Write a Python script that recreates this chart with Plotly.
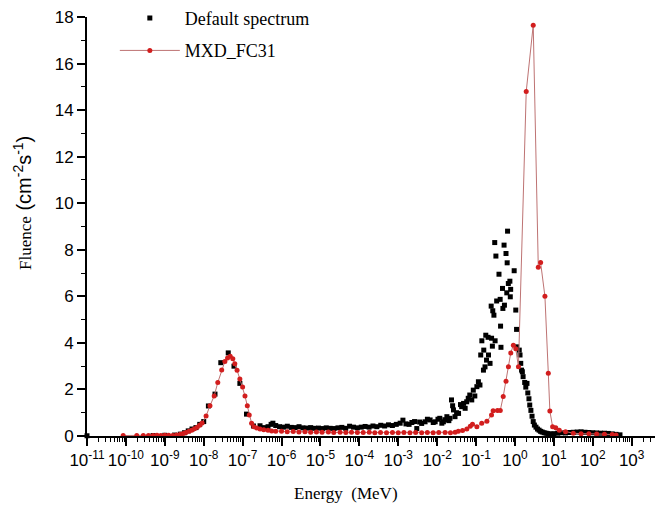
import plotly.graph_objects as go

# ---------------- data ----------------
default_energy = [
    1.0e-11, 5.0e-10, 1.0e-9, 1.78e-9, 2.5e-9, 3.2e-9, 4.0e-9, 5.0e-9, 6.3e-9, 7.9e-9,
    1.0e-8, 1.32e-8, 1.95e-8, 2.75e-8, 4.27e-8, 6.0e-8, 8.5e-8, 1.26e-7, 1.9e-7, 2.8e-7,
    3.55e-7, 4.5e-7, 5.4e-7, 6.0e-7, 7.1e-7, 8.9e-7, 1.12e-6, 1.41e-6, 1.78e-6, 2.24e-6,
    2.82e-6, 3.55e-6, 4.47e-6, 5.62e-6, 7.08e-6, 8.91e-6, 1.12e-5, 1.41e-5, 1.78e-5, 2.24e-5,
    2.82e-5, 3.55e-5, 4.47e-5, 5.62e-5, 7.08e-5, 8.91e-5, 1.12e-4, 1.41e-4, 1.78e-4, 2.24e-4,
    2.82e-4, 3.55e-4, 4.47e-4, 5.62e-4, 7.08e-4, 8.91e-4, 1.12e-3, 1.32e-3, 1.58e-3, 1.9e-3,
    2.24e-3, 2.63e-3, 3.0e-3, 3.55e-3, 4.0e-3, 4.9e-3, 5.62e-3, 6.6e-3, 7.94e-3, 8.9e-3,
    1.05e-2, 1.17e-2, 1.32e-2, 1.45e-2, 1.58e-2, 1.78e-2, 2.0e-2, 2.14e-2, 2.34e-2, 2.5e-2,
    2.63e-2, 2.88e-2, 3.16e-2, 3.55e-2, 3.98e-2, 4.27e-2, 4.79e-2, 5.25e-2, 5.75e-2, 6.3e-2,
    6.9e-2, 7.76e-2, 8.5e-2, 9.3e-2, 0.105, 0.115, 0.126, 0.132, 0.141, 0.155,
    0.158, 0.17, 0.178, 0.186, 0.204, 0.209, 0.229, 0.251, 0.263, 0.245,
    0.269, 0.288, 0.309, 0.302, 0.324, 0.339, 0.389, 0.417, 0.427, 0.437,
    0.479, 0.49, 0.525, 0.537, 0.589, 0.617, 0.631, 0.646, 0.676, 0.741,
    0.759, 0.776, 0.955, 1.05, 1.1, 1.11, 1.29, 1.35, 1.41, 1.48,
    1.55, 1.62, 1.78, 1.9, 2.04, 2.14, 2.29, 2.4, 2.57, 2.75,
    2.95, 3.16, 3.47, 3.8, 4.17, 4.57, 5.01, 5.62, 6.31, 7.08,
    7.94, 10.0, 12.6, 15.8, 20.0, 25.1, 31.6, 39.8, 50.1, 63.1,
    79.4, 100.0, 126.0, 158.0, 200.0, 251.0, 316.0, 398.0, 501.0,
]
default_fluence = [
    0.01, 0.02, 0.03, 0.04, 0.08, 0.14, 0.22, 0.30, 0.36, 0.50,
    0.62, 1.29, 1.80, 3.15, 3.57, 3.00, 2.26, 0.94, 0.43, 0.44,
    0.36, 0.40, 0.50, 0.55, 0.45, 0.40, 0.38, 0.42, 0.37, 0.36,
    0.40, 0.35, 0.34, 0.36, 0.33, 0.34, 0.32, 0.35, 0.33, 0.32,
    0.35, 0.37, 0.33, 0.42, 0.38, 0.35, 0.38, 0.41, 0.38, 0.43,
    0.40, 0.46, 0.43, 0.48, 0.45, 0.50, 0.55, 0.68, 0.52, 0.50,
    0.58, 0.62, 0.32, 0.60, 0.54, 0.61, 0.72, 0.69, 0.58, 0.61,
    0.72, 0.76, 0.55, 0.61, 0.70, 0.83, 0.66, 0.76, 1.55, 1.30,
    1.12, 0.83, 1.00, 0.97, 1.35, 1.26, 1.40, 1.19, 1.47, 1.62,
    1.76, 1.55, 1.97, 1.72, 2.12, 2.33, 2.19, 3.48, 4.09, 2.83,
    3.69, 2.97, 4.33, 3.26, 4.24, 3.48, 3.12, 4.20, 3.86, 5.58,
    5.38, 5.19, 4.09, 8.31, 7.73, 5.80, 6.95, 5.87, 4.72, 3.81,
    6.34, 5.48, 8.20, 5.62, 7.84, 6.15, 7.44, 8.80, 6.55, 6.65,
    5.98, 6.30, 7.10, 5.41, 4.58, 3.83, 3.69, 3.48, 3.12, 2.83,
    2.76, 2.55, 2.30, 2.10, 2.26, 1.85, 1.60, 1.33, 1.10, 0.85,
    0.62, 0.47, 0.38, 0.30, 0.25, 0.20, 0.17, 0.14, 0.12, 0.10,
    0.09, 0.10, 0.12, 0.14, 0.13, 0.15, 0.16, 0.17, 0.18, 0.16,
    0.15, 0.14, 0.13, 0.12, 0.12, 0.11, 0.09, 0.07, 0.05,
]

mxd_energy = [
    8.5e-11, 1.9e-10, 2.8e-10, 3.8e-10, 5.0e-10, 6.3e-10, 7.9e-10, 1.0e-9, 1.26e-9, 1.6e-9,
    2.0e-9, 2.5e-9, 3.0e-9, 3.5e-9, 4.2e-9, 4.9e-9, 5.8e-9, 6.8e-9, 7.9e-9, 9.1e-9,
    1.15e-8, 1.45e-8, 1.86e-8, 2.3e-8, 2.9e-8, 3.5e-8, 4.1e-8, 4.8e-8, 5.6e-8, 6.3e-8,
    7.2e-8, 8.5e-8, 1.0e-7, 1.15e-7, 1.32e-7, 1.48e-7, 1.7e-7, 1.95e-7, 2.3e-7, 2.8e-7,
    3.5e-7, 4.5e-7, 5.6e-7, 7.1e-7, 1.0e-6, 1.4e-6, 2.0e-6, 2.8e-6, 4.0e-6, 5.6e-6,
    7.9e-6, 1.1e-5, 1.6e-5, 2.2e-5, 3.2e-5, 4.5e-5, 6.3e-5, 8.9e-5, 1.26e-4, 1.8e-4,
    2.5e-4, 3.5e-4, 5.0e-4, 7.1e-4, 1.0e-3, 1.4e-3, 2.0e-3, 2.8e-3, 4.0e-3, 5.6e-3,
    7.9e-3, 1.1e-2, 1.6e-2, 2.2e-2, 2.9e-2, 3.5e-2, 4.5e-2, 5.8e-2, 7.1e-2, 8.1e-2,
    0.105, 0.14, 0.19, 0.25, 0.275, 0.355, 0.42, 0.5, 0.59, 0.68,
    0.78, 0.91, 1.05, 1.23, 1.95, 2.95, 3.98, 4.57, 5.9, 7.2,
    7.9, 9.3, 11.2, 13.8, 20.0, 31.6, 50.1, 79.4, 126.0, 200.0,
    316.0, 398.0,
]
mxd_fluence = [
    0.02, 0.02, 0.02, 0.02, 0.02, 0.03, 0.02, 0.03, 0.03, 0.02,
    0.04, 0.07, 0.11, 0.15, 0.20, 0.25, 0.31, 0.38, 0.46, 0.56,
    0.86, 1.30, 1.72, 2.30, 2.83, 3.20, 3.35, 3.43, 3.32, 3.10,
    2.82, 2.45, 2.10, 1.72, 1.30, 0.90, 0.55, 0.40, 0.34, 0.30,
    0.27, 0.25, 0.22, 0.20, 0.20, 0.18, 0.19, 0.17, 0.18, 0.16,
    0.17, 0.16, 0.17, 0.15, 0.16, 0.15, 0.16, 0.15, 0.15, 0.16,
    0.14, 0.15, 0.14, 0.15, 0.14, 0.15, 0.14, 0.15, 0.14, 0.15,
    0.14, 0.15, 0.15, 0.14, 0.16, 0.20, 0.24, 0.30, 0.42, 0.50,
    0.40, 0.55, 0.63, 0.90, 1.08, 1.10, 1.10, 1.70, 2.35, 2.97,
    3.57, 3.90, 3.75, 2.97, 14.8, 17.65, 7.25, 7.45, 6.0, 2.7,
    1.07, 0.40, 0.35, 0.25, 0.18, 0.12, 0.10, 0.10, 0.09, 0.08,
    0.06, 0.04,
]

x_tick_exponents = list(range(-11, 4))
x_tick_vals = [10.0 ** e for e in x_tick_exponents]
x_tick_text = ["10<sup>%d</sup>" % e for e in x_tick_exponents]
x_minor_vals = [m * 10.0 ** e for e in range(-11, 4) for m in range(2, 10)]

SANS = "Liberation Sans"
SERIF = "Liberation Serif"

fig = go.Figure()
fig.add_trace(go.Scatter(
    x=default_energy, y=default_fluence, mode="markers", name="Default spectrum",
    legendgroup="a",
    marker=dict(symbol="square", size=5, color="black"),
    cliponaxis=False,
))
fig.add_trace(go.Scatter(
    x=mxd_energy, y=mxd_fluence, mode="lines+markers", name="MXD_FC31",
    legendgroup="b",
    line=dict(color="rgb(190,115,115)", width=1),
    marker=dict(symbol="circle", size=5, color="rgb(210,30,30)"),
    cliponaxis=False,
))

fig.update_layout(
    width=667, height=506,
    margin=dict(l=87, r=12, t=17, b=70, autoexpand=False),
    paper_bgcolor="white", plot_bgcolor="white",
    showlegend=True,
    legend=dict(
        x=0.049, y=1.041, xanchor="left", yanchor="top",
        font=dict(family=SERIF, size=18, color="black"),
        bgcolor="rgba(0,0,0,0)", tracegroupgap=6, itemwidth=60,
    ),
    xaxis=dict(
        type="log", range=[-11, 3.6],
        tickmode="array", tickvals=x_tick_vals, ticktext=x_tick_text,
        showline=True, linecolor="black", linewidth=2,
        ticks="outside", ticklen=8, tickwidth=1.5, tickcolor="black",
        showgrid=False, zeroline=False,
        tickfont=dict(family=SANS, size=17, color="black"),
        minor=dict(tickmode="array", tickvals=x_minor_vals, ticks="outside",
                   ticklen=4, tickwidth=1, tickcolor="black", showgrid=False),
    ),
    yaxis=dict(
        range=[0, 18], dtick=2, tick0=0,
        showline=True, linecolor="black", linewidth=2,
        ticks="outside", ticklen=8, tickwidth=1.5, tickcolor="black",
        showgrid=False, zeroline=False,
        tickfont=dict(family=SANS, size=17, color="black"),
        minor=dict(dtick=1, ticks="outside", ticklen=4, tickwidth=1,
                   tickcolor="black", showgrid=False),
    ),
)

fig.add_annotation(
    xref="paper", yref="paper", x=(346 - 87) / 568, y=(436 - 493) / 419,
    text="Energy  (MeV)", showarrow=False,
    font=dict(family=SERIF, size=17, color="black"),
    xanchor="center", yanchor="middle",
)
fig.add_annotation(
    xref="paper", yref="paper", x=(22 - 87) / 568, y=(436 - 203) / 419,
    text="<span style='font-family:Liberation Serif;font-size:17px'>Fluence</span> "
         "(cm<sup>-2</sup>s<sup>-1</sup>)",
    textangle=-90, showarrow=False,
    font=dict(family=SANS, size=20, color="black"),
    xanchor="center", yanchor="middle",
)

fig.write_html("out.html")
